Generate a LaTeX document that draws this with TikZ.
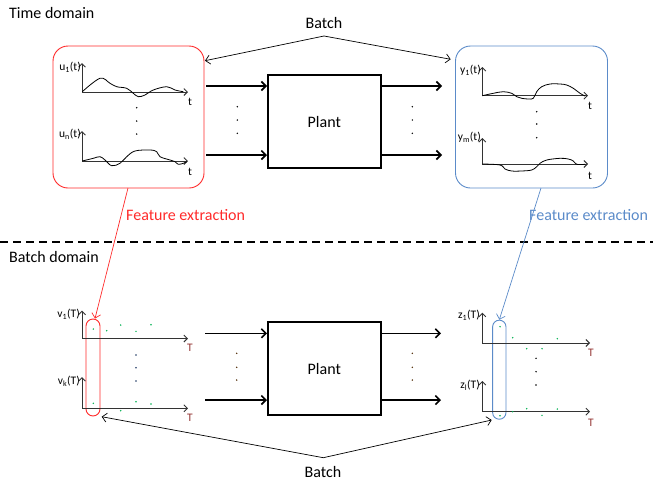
\documentclass[tikz,border=0pt]{standalone}
\usepackage{fontspec}
\setmainfont{Carlito}
\usetikzlibrary{arrows.meta}
\definecolor{myred}{HTML}{FF2A2A}
\definecolor{myblue}{HTML}{5B8BC9}
\definecolor{tred}{HTML}{943634}
\definecolor{gdot}{HTML}{00B050}
\definecolor{bdot}{HTML}{1F3864}
\begin{document}
\begin{tikzpicture}[x=1pt,y=-1pt,
  lbl/.style={font=\fontsize{16}{18}\selectfont, inner sep=0pt},
  sml/.style={font=\fontsize{11.5}{12}\selectfont, inner sep=0pt},
  axis/.style={draw=black!80, line width=0.9pt, {Straight Barb[length=3.5pt,width=7pt]}-{Straight Barb[length=3.5pt,width=7pt]}},
  sig/.style={draw=black, line width=0.8pt},
  fat/.style={draw=black, line width=1.6pt, -{Straight Barb[length=4.5pt,width=9pt]}},
  thin/.style={line width=0.7pt, -{Straight Barb[length=4.5pt,width=9pt]}},
  plantbox/.style={draw=black, line width=1.6pt, minimum width=113pt, minimum height=93pt, font=\fontsize{16}{18}\selectfont},
  dotk/.style={fill=black, circle, inner sep=0pt, minimum size=1.6pt},
  dotg/.style={fill=gdot, circle, inner sep=0pt, minimum size=1.6pt},
  dotb/.style={fill=bdot, circle, inner sep=0pt, minimum size=1.8pt},
  dotbr/.style={fill=black!70!orange, circle, inner sep=0pt, minimum size=1.6pt}]
\useasboundingbox (0,0) rectangle (653,485);

% headings
\node[lbl, anchor=west] (td) at (9,13) {Time domain};
\node[lbl, anchor=west] (bd) at (9,257) {Batch domain};
\draw[line width=1.5pt, dash pattern=on 8pt off 5pt] (0,242) -- (653,242);

% ---------- time domain ----------
\node[draw=myred, line width=0.9pt, rounded corners=15pt, minimum width=151pt, minimum height=142pt] (rbox) at (128.5,117) {};
\node[draw=myblue, line width=0.9pt, rounded corners=15pt, minimum width=152pt, minimum height=142pt] (bbox) at (531.5,117) {};

\node[lbl] (batch1) at (324,23) {Batch};
\coordinate (ap1) at (324,36);
\coordinate (bl1) at (205,60.7);
\coordinate (br1) at (450.7,59.3);
\draw[thin] (ap1) -- (bl1);
\draw[thin] (ap1) -- (br1);

% input plots
\draw[axis] (82,63) -- (82,92) -- (188,92);
\node[sml, anchor=east] (u1) at (81,67) {u\textsubscript{1}(t)};
\node[sml] (t1) at (190,102) {t};
\draw[sig] plot[smooth, tension=0.6] coordinates {(82.3,91.7) (100,78.3) (110,83.3) (116.7,86.7) (126.7,88.3) (133.3,93.3) (138.3,96.7) (145,95) (153.3,90) (166.7,86.7) (175,90) (183.3,91.7)};
\node[dotk] (ud1) at (136.7,107.7) {};
\node[dotk] (ud2) at (136.7,121) {};
\node[dotk] (ud3) at (136.7,134) {};
\draw[axis] (82,131) -- (82,161) -- (188,161);
\node[sml, anchor=east] (un) at (81,134) {u\textsubscript{n}(t)};
\node[sml] (t2) at (190,172) {t};
\draw[sig] plot[smooth, tension=0.6] coordinates {(82.3,161) (93.3,158.3) (100,156.7) (105,160) (111.7,165.7) (120,163.3) (126.7,156.7) (135,151) (150,150) (156.7,151.7) (160,156.7) (170,160) (175,161.7) (178.3,164.3) (183.3,163.3) (186.7,161.7)};

% output plots
\draw[axis] (482.3,67) -- (482.3,95.7) -- (588,95.7);
\node[sml, anchor=east] (y1) at (481,70) {y\textsubscript{1}(t)};
\node[sml] (t3) at (590,106) {t};
\draw[sig] plot[smooth, tension=0.6] coordinates {(482.3,95.7) (493.3,93.3) (503.3,91.7) (511.7,93.3) (516.7,96.7) (521.7,98.3) (528.3,99) (533.3,98.3) (536.7,91.7) (541.7,86.7) (550,84) (560,84) (566.7,85) (573.3,88.3) (580,93.3) (585,96)};
\node[dotk] (yd1) at (536.7,111.7) {};
\node[dotk] (yd2) at (536.7,124) {};
\node[dotk] (yd3) at (536.7,137.7) {};
\draw[axis] (482.3,138) -- (482.3,164) -- (588,164);
\node[sml, anchor=east] (ym) at (481,137) {y\textsubscript{m}(t)};
\node[sml] (t4) at (590,176) {t};
\draw[sig] plot[smooth, tension=0.6] coordinates {(482.3,164) (500,165) (505,169) (511.7,171) (521.7,171) (531.7,170) (536.7,166.7) (540,163.3) (546.7,160) (560,158.3) (568.3,159) (573.3,161) (576.7,164.3) (585,164.3)};

% plant (time)
\node[plantbox] (plant1) at (324.3,121.7) {Plant};
\coordinate (i1) at (206,86);
\coordinate (i2) at (206,155);
\coordinate (o1) at (442,86);
\coordinate (o2) at (442,155);
\draw[fat] (i1) -- (i1 -| plant1.west);
\draw[fat] (i2) -- (i2 -| plant1.west);
\draw[fat] (o1 -| plant1.east) -- (o1);
\draw[fat] (o2 -| plant1.east) -- (o2);
\node[dotk] (pd1) at (237.3,106.7) {};
\node[dotk] (pd2) at (237.3,120) {};
\node[dotk] (pd3) at (237.3,133.3) {};
\node[dotk] (pd4) at (412.3,106.7) {};
\node[dotk] (pd5) at (412.3,120) {};
\node[dotk] (pd6) at (412.3,133.3) {};

% feature extraction
\node[lbl, text=myred, anchor=west] (fer) at (126,215) {Feature extraction};
\node[lbl, text=myblue, anchor=west] (feb) at (529,215) {Feature extraction};

% ---------- batch domain ----------
\node[draw=myred, line width=0.9pt, rounded corners=7pt, minimum width=14pt, minimum height=97pt, inner sep=0pt] (rcap) at (93,367.5) {};
\node[draw=myblue, line width=0.9pt, rounded corners=6.5pt, minimum width=13.3pt, minimum height=99pt, inner sep=0pt] (bcap) at (499.3,369.7) {};

\coordinate (rs) at (128,188);
\coordinate (bs) at (541,188);
\draw[thin, draw=myred] (rs) -- ([xshift=2pt]rcap.north);
\draw[thin, draw=myblue] (bs) -- (bcap.north);

% v plots
\draw[axis] (82,310.7) -- (82,338.5) -- (188,338.5);
\node[sml, anchor=east] (v1) at (80,314) {v\textsubscript{1}(T)};
\node[sml, text=tred] (T1) at (190,348) {T};
\node[dotg] at (93.3,329) {};
\node[dotg] at (106.7,330.7) {};
\node[dotg] at (120.7,325) {};
\node[dotg] at (136,331.3) {};
\node[dotg] at (151,324.7) {};
\node[dotb] at (136,355) {};
\node[dotb] at (136,367.7) {};
\node[dotb] at (136,381) {};
\draw[axis] (82,377) -- (82,408.3) -- (188,408.3);
\node[sml, anchor=east] (vk) at (80,381) {v\textsubscript{k}(T)};
\node[sml, text=tred] (T2) at (190,418) {T};
\node[dotg] at (93.3,403.3) {};
\node[dotg] at (120.7,410.7) {};
\node[dotg] at (136,401.7) {};
\node[dotg] at (151,404) {};

% z plots
\draw[axis] (482.3,312.7) -- (482.3,343) -- (590,343);
\node[sml, anchor=east] (z1) at (480,315) {z\textsubscript{1}(T)};
\node[sml, text=tred] (T3) at (591,353) {T};
\node[dotg] at (500,326.7) {};
\node[dotg] at (512.7,337.7) {};
\node[dotg] at (557.3,338.7) {};
\node[dotg] at (526.7,348.7) {};
\node[dotg] at (542,348.7) {};
\node[dotk] at (536,358.3) {};
\node[dotk] at (536,371.7) {};
\node[dotk] at (536,385) {};
\draw[axis] (482.3,381) -- (482.3,411.7) -- (590,411.7);
\node[sml, anchor=east] (zl) at (480,385) {z\textsubscript{l}(T)};
\node[sml, text=tred] (T4) at (591,423) {T};
\node[dotg] at (500,415.7) {};
\node[dotg] at (512.7,411.7) {};
\node[dotg] at (526.7,408.7) {};
\node[dotg] at (542,415.3) {};
\node[dotg] at (557.3,409) {};

% plant (batch)
\node[plantbox] (plant2) at (324.3,368.7) {Plant};
\coordinate (j1) at (205,333.3);
\coordinate (j2) at (205,400);
\coordinate (q1) at (441,333.3);
\coordinate (q2) at (441,400);
\draw[fat] (j1) -- (j1 -| plant2.west);
\draw[fat] (j2) -- (j2 -| plant2.west);
\draw[fat] (q1 -| plant2.east) -- (q1);
\draw[fat] (q2 -| plant2.east) -- (q2);
\node[dotbr] at (236.7,353.3) {};
\node[dotbr] at (236.7,367.3) {};
\node[dotbr] at (236.7,380) {};
\node[dotbr] at (412.3,353.3) {};
\node[dotbr] at (412.3,367.3) {};
\node[dotbr] at (412.3,380) {};

% batch arrows (bottom)
\node[lbl] (batch2) at (323,471.7) {Batch};
\coordinate (ap2) at (323.3,457.7);
\coordinate (bl2) at (101.7,416.7);
\coordinate (br2) at (491.7,420);
\draw[thin] (ap2) -- (bl2);
\draw[thin] (ap2) -- (br2);
\end{tikzpicture}
\end{document}
